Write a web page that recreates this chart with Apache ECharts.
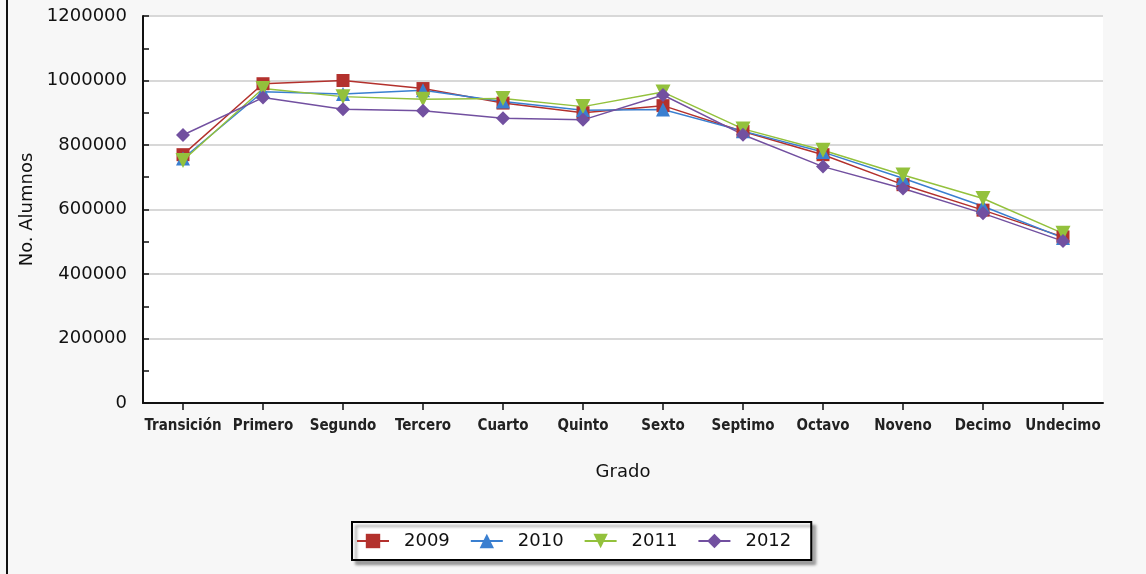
<!DOCTYPE html>
<html>
<head>
<meta charset="utf-8">
<script src="https://cdn.jsdelivr.net/npm/echarts@6/dist/echarts.min.js"></script>
<style>
  html, body { margin: 0; padding: 0; background: #f7f7f7; }
  #chart { width: 1146px; height: 574px; }
</style>
</head>
<body>
<div id="chart"></div>
<script>
// categorias (grados)
const grados = ['Transición', 'Primero', 'Segundo', 'Tercero', 'Cuarto', 'Quinto',
  'Sexto', 'Septimo', 'Octavo', 'Noveno', 'Decimo', 'Undecimo']

// alumnos por año
const anio2009 = [770000, 990000, 1000000, 975000, 930000, 900000, 922000, 842000, 770000, 677000, 598000, 515000]
const anio2010 = [758000, 965000, 958000, 970000, 935000, 908000, 910000, 843000, 778000, 697000, 610000, 512000]
const anio2011 = [752000, 975000, 950000, 942000, 944000, 919000, 964000, 850000, 784000, 707000, 634000, 526000]
const anio2012 = [831000, 947000, 911000, 906000, 883000, 878000, 955000, 832000, 733000, 665000, 588000, 502000]

const yTicks = [0, 200000, 400000, 600000, 800000, 1000000, 1200000]

const chart = echarts.init(document.getElementById('chart'))

const lineSerie = (name, data, color, symbol, size) => ({
  name,
  type: 'line',
  data,
  symbol,
  symbolSize: size,
  showAllSymbol: true,
  lineStyle: { color, width: 1.5 },
  itemStyle: { color },
  emphasis: { disabled: true }
})

const option = {
  animation: false,
  backgroundColor: '#f7f7f7',
  grid: {
    left: 143,
    right: 43,
    top: 16,
    bottom: 171,
    show: true,
    backgroundColor: '#ffffff',
    borderWidth: 0
  },
  xAxis: {
    type: 'category',
    data: grados,
    boundaryGap: true,
    name: 'Grado',
    nameLocation: 'middle',
    nameGap: 60,
    nameTextStyle: { fontFamily: 'DejaVu Sans', fontSize: 18, color: '#111' },
    axisLine: { lineStyle: { color: '#111', width: 2 } },
    axisTick: { show: true, alignWithLabel: true, length: 7, lineStyle: { color: '#111', width: 1.5 } },
    axisLabel: {
      interval: 0,
      margin: 16,
      fontFamily: 'DejaVu Sans Condensed',
      fontWeight: 'bold',
      fontSize: 15,
      color: '#222'
    },
    splitLine: { show: false }
  },
  yAxis: {
    type: 'value',
    min: yTicks[0],
    max: yTicks[yTicks.length - 1],
    interval: 200000,
    name: 'No. Alumnos',
    nameLocation: 'middle',
    nameGap: 101,
    nameTextStyle: { fontFamily: 'DejaVu Sans', fontSize: 18, color: '#111' },
    axisLine: { show: true, lineStyle: { color: '#111', width: 2 } },
    axisTick: { show: true, inside: true, length: 6, lineStyle: { color: '#111', width: 1.5 } },
    minorTick: { show: true, splitNumber: 2, length: 6, lineStyle: { color: '#111', width: 1.5 } },
    axisLabel: {
      margin: 16,
      fontFamily: 'DejaVu Sans',
      fontSize: 18,
      color: '#111',
      formatter: v => String(v)
    },
    splitLine: { show: true, lineStyle: { color: '#d8d8d8', width: 2 } }
  },
  legend: {
    left: 352,
    top: 522,
    orient: 'horizontal',
    itemWidth: 32,
    itemHeight: 18,
    itemGap: 20,
    padding: [10, 20, 10, 4],
    backgroundColor: '#ffffff',
    borderColor: '#000',
    borderWidth: 2,
    borderRadius: 0,
    shadowColor: 'rgba(0,0,0,0.35)',
    shadowBlur: 3,
    shadowOffsetX: 4,
    shadowOffsetY: 4,
    textStyle: { fontFamily: 'DejaVu Sans', fontSize: 18, color: '#111', padding: [0, 0, 0, 10] },
    data: ['2009', '2010', '2011', '2012']
  },
  graphic: [
    {
      type: 'rect',
      left: 6,
      top: 0,
      shape: { width: 2, height: 574 },
      style: { fill: '#111' }
    }
  ],
  series: [
    lineSerie('2009', anio2009, '#b3312d', 'rect', 13),
    lineSerie('2010', anio2010, '#3a7fd0', 'triangle', 14),
    lineSerie('2011', anio2011, '#93c13c', 'path://M0,0L10,0L5,9Z', 15),
    lineSerie('2012', anio2012, '#7250a0', 'diamond', 14)
  ]
}

chart.setOption(option)
</script>
</body>
</html>
